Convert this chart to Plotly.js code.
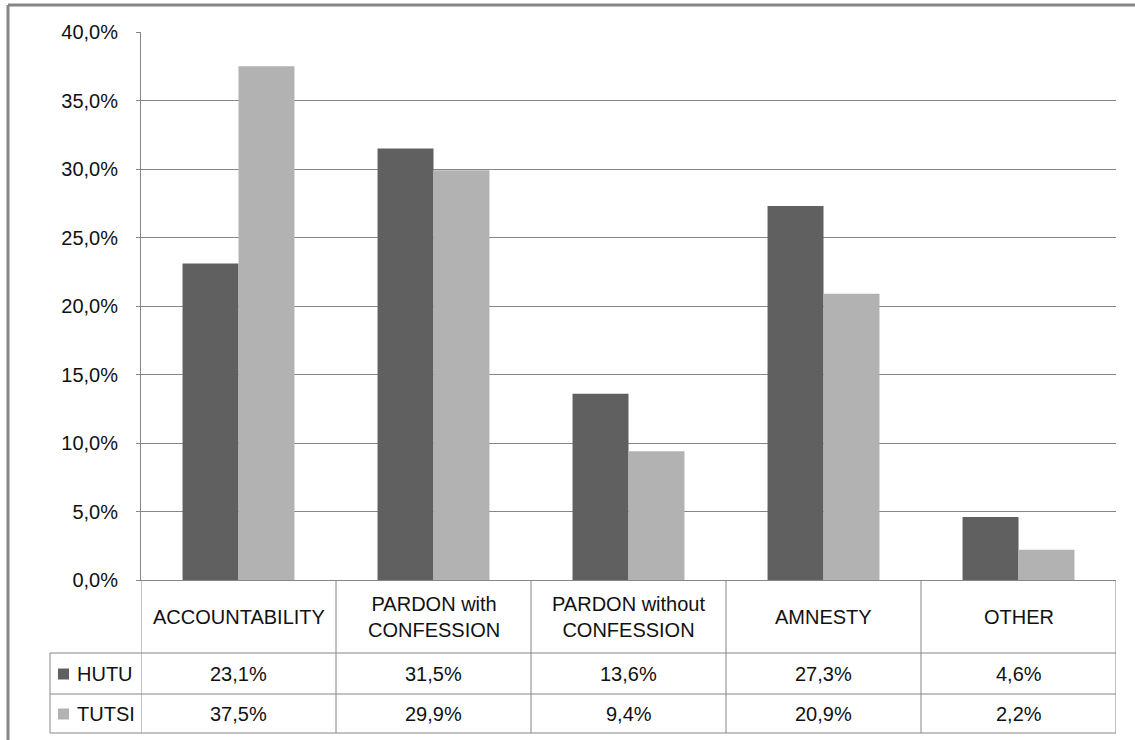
<!DOCTYPE html>
<html>
<head>
<meta charset="utf-8">
<script src="https://cdn.plot.ly/plotly-3.0.1.min.js"></script>
<style>html,body{margin:0;padding:0;background:#fff;}#chart{width:1135px;height:740px;}</style>
</head>
<body>
<div id="chart"></div>
<script>
// ---- data ----
const categories = ["ACCOUNTABILITY", "PARDON with<br>CONFESSION", "PARDON without<br>CONFESSION", "AMNESTY", "OTHER"];
const seriesNames = ["HUTU", "TUTSI"];
const hutu = [23.1, 31.5, 13.6, 27.3, 4.6];
const tutsi = [37.5, 29.9, 9.4, 20.9, 2.2];
const yTickVals = [0, 5, 10, 15, 20, 25, 30, 35, 40];

// ---- layout geometry (pixels) ----
const W = 1135, H = 740;
const L = 141, R = 19, T = 32, B = 160;
const PW = W - L - R, PH = H - T - B;
const px = x => (x - L) / PW;          // pixel x -> paper
const py = y => (H - B - y) / PH;      // pixel y -> paper

const dark = "#606060", light = "#b2b2b2", lineC = "#868686";
const fontFam = "Liberation Sans, Arial, sans-serif";
const fmt = v => v.toFixed(1).replace(".", ",") + "%";

const xIdx = categories.map((c, i) => i);

const traces = [
  {type: "bar", name: seriesNames[0], x: xIdx, y: hutu, marker: {color: dark}, hoverinfo: "none"},
  {type: "bar", name: seriesNames[1], x: xIdx, y: tutsi, marker: {color: light}, hoverinfo: "none"}
];

// table geometry
const rowTop = 580, rowCat = 653, rowH = 694, rowBot = 733, legLeft = 50;
const shapes = [];
const line = (x0, y0, x1, y1, xref, w, c) => shapes.push({type: "line", xref: xref || "paper", yref: "paper",
  x0: x0, y0: y0, x1: x1, y1: y1, line: {color: c || lineC, width: w || 1}});

// vertical separators through table (category boundaries)
for (let i = 0; i <= categories.length; i++) {
  line(i - 0.5, py(rowTop), i - 0.5, py(rowBot), "x");
}
// legend column left edge
line(px(legLeft), py(rowCat), px(legLeft), py(rowBot));
// horizontal rows
[rowCat, rowH, rowBot].forEach(y => line(px(legLeft), py(y), 1, py(y)));
// outer chart frame
line(px(8), py(5), px(8), py(H + 5), "paper", 3);
line(px(8), py(5), px(W + 5), py(5), "paper", 3);

// legend squares
const sq = 11;
[[rowCat, rowH, dark], [rowH, rowBot, light]].forEach(([a, b, c]) => {
  const cy = (a + b) / 2;
  shapes.push({type: "rect", xref: "paper", yref: "paper", x0: px(58), x1: px(58 + sq),
    y0: py(cy - sq / 2 + 0.5), y1: py(cy + sq / 2 + 0.5), line: {width: 0}, fillcolor: c});
});

const annotations = [];
const tf = {family: fontFam, size: 20, color: "#111"};
categories.forEach((c, i) => {
  annotations.push({xref: "x", yref: "paper", x: i, y: py((rowTop + rowCat) / 2), text: c, showarrow: false,
    font: tf, align: "center", xanchor: "center", yanchor: "middle"});
  annotations.push({xref: "x", yref: "paper", x: i, y: py((rowCat + rowH) / 2), text: fmt(hutu[i]), showarrow: false,
    font: tf, xanchor: "center", yanchor: "middle"});
  annotations.push({xref: "x", yref: "paper", x: i, y: py((rowH + rowBot) / 2), text: fmt(tutsi[i]), showarrow: false,
    font: tf, xanchor: "center", yanchor: "middle"});
});
[[seriesNames[0], (rowCat + rowH) / 2], [seriesNames[1], (rowH + rowBot) / 2]].forEach(([n, cy]) => {
  annotations.push({xref: "paper", yref: "paper", x: px(75), y: py(cy), text: n, showarrow: false,
    font: tf, xanchor: "left", yanchor: "middle"});
});

const layout = {
  width: W, height: H,
  margin: {l: L, r: R, t: T, b: B, pad: 0},
  paper_bgcolor: "#fff", plot_bgcolor: "#fff",
  separators: ",.",
  showlegend: false,
  barmode: "group", bargap: 0.426, bargroupgap: 0,
  xaxis: {range: [-0.5, categories.length - 0.5], showticklabels: false, ticks: "", showgrid: false,
    zeroline: false, showline: true, linecolor: lineC, linewidth: 1, fixedrange: true},
  yaxis: {range: [0, 40], tickvals: yTickVals, ticktext: yTickVals.map(v => v.toFixed(1).replace(".", ",") + "%"),
    showgrid: true, gridcolor: lineC, gridwidth: 1, zeroline: false,
    showline: true, linecolor: lineC, linewidth: 1, ticks: "outside", ticklen: 4, tickcolor: lineC,
    tickfont: {family: fontFam, size: 20, color: "#111"}, ticklabelstandoff: 14, fixedrange: true},
  shapes: shapes,
  annotations: annotations
};

Plotly.newPlot("chart", traces, layout, {displayModeBar: false, staticPlot: true});
</script>
</body>
</html>
